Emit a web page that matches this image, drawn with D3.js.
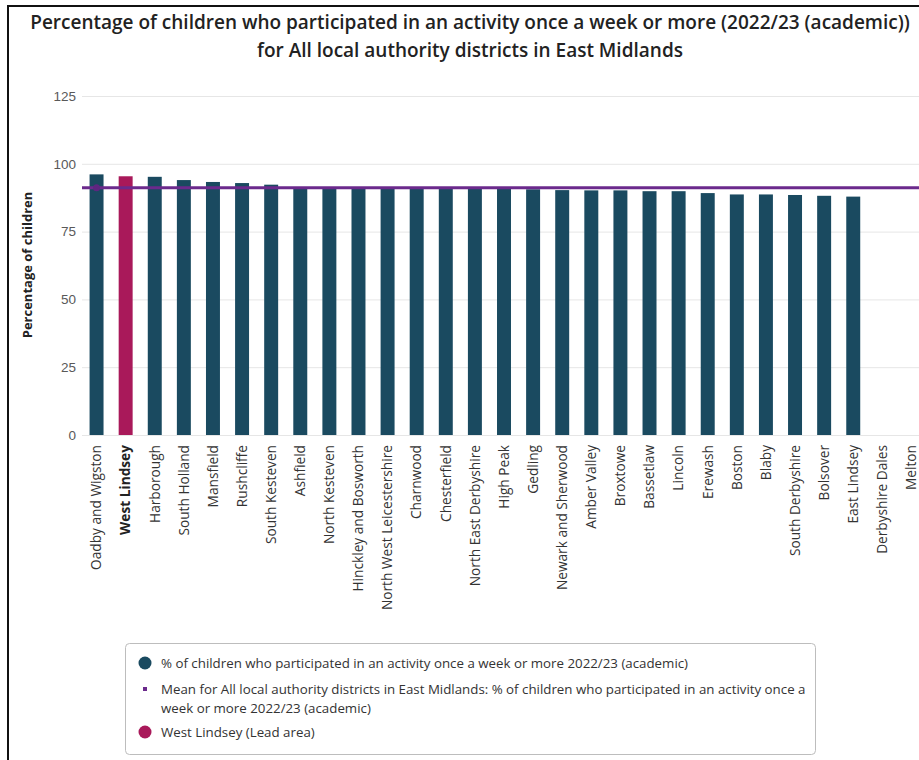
<!DOCTYPE html>
<html>
<head>
<meta charset="utf-8">
<title>Children activity chart</title>
<script src="https://d3js.org/d3.v7.min.js"></script>
<style>
 body { margin: 0; background: #fff; }
 svg { display: block; font-family: "Open Sans", "Noto Sans", sans-serif; }
 .title { fill: #222; font-size: 19px; font-weight: 600; }
 .tick text { fill: #595959; font-size: 13.5px; }
 .xlab { fill: #333; font-size: 13.7px; }
 .ylabel { fill: #222; font-size: 13px; font-weight: 700; }
 .legend text { fill: #333; font-size: 13.3px; }
</style>
</head>
<body>
<div id="chart"></div>
<script>
var districts = ["Oadby and Wigston", "West Lindsey", "Harborough", "South Holland", "Mansfield",
  "Rushcliffe", "South Kesteven", "Ashfield", "North Kesteven", "Hinckley and Bosworth",
  "North West Leicestershire", "Charnwood", "Chesterfield", "North East Derbyshire", "High Peak",
  "Gedling", "Newark and Sherwood", "Amber Valley", "Broxtowe", "Bassetlaw", "Lincoln",
  "Erewash", "Boston", "Blaby", "South Derbyshire", "Bolsover", "East Lindsey",
  "Derbyshire Dales", "Melton"];
var values = [96.1, 95.4, 95.2, 94.0, 93.3, 92.9, 92.3, 91.4, 91.3, 91.2,
  91.1, 91.0, 91.0, 90.9, 90.8, 90.6, 90.3, 90.2, 90.2, 89.9, 89.9,
  89.2, 88.7, 88.7, 88.5, 88.2, 87.9, null, null];
var meanValue = 91.2;
var leadArea = "West Lindsey";
var yTicks = [0, 25, 50, 75, 100, 125];
var titleLines = ["Percentage of children who participated in an activity once a week or more (2022/23 (academic))",
  "for All local authority districts in East Midlands"];
var legendItems = [
  {type: "circle", color: "#1a4a60", lines: ["% of children who participated in an activity once a week or more 2022/23 (academic)"]},
  {type: "square", color: "#6b2a8c", lines: ["Mean for All local authority districts in East Midlands: % of children who participated in an activity once a", "week or more 2022/23 (academic)"]},
  {type: "circle", color: "#a9195a", lines: ["West Lindsey (Lead area)"]}
];

var W = 919, H = 760;
var barColor = "#1a4a60", leadColor = "#a9195a", meanColor = "#6b2a8c";

var svg = d3.select("#chart").append("svg")
  .attr("width", W)
  .attr("height", H);

// frame (left and top edges visible)
svg.append("path")
  .attr("d", "M8,760 L8,6 L919,6")
  .attr("fill", "none")
  .attr("stroke", "#111")
  .attr("stroke-width", 2);

svg.selectAll(".title")
  .data(titleLines)
  .enter().append("text")
  .attr("class", "title")
  .attr("x", 470)
  .attr("y", function(d, i) { return 29 + i * 28; })
  .attr("text-anchor", "middle")
  .text(function(d) { return d; });

var plotLeft = 82, plotRight = 926;
var yScale = d3.scaleLinear().domain([0, 125]).range([435, 96]);
var xScale = d3.scaleBand().domain(districts).range([plotLeft, plotRight])
  .paddingInner(0.52).paddingOuter(0.26);

// grid + y ticks
var yAxis = svg.append("g")
  .attr("transform", "translate(" + plotLeft + ",0)")
  .call(d3.axisLeft(yScale).tickValues(yTicks).tickSize(-(W - plotLeft)).tickPadding(6));
yAxis.select(".domain").remove();
yAxis.selectAll(".tick line").attr("stroke", "#e6e6e6");

svg.append("text")
  .attr("class", "ylabel")
  .attr("transform", "translate(32,265) rotate(-90)")
  .attr("text-anchor", "middle")
  .text("Percentage of children");

var bars = districts.map(function(d, i) { return {name: d, value: values[i]}; })
  .filter(function(d) { return d.value != null; });

svg.selectAll(".bar")
  .data(bars)
  .enter().append("rect")
  .attr("class", "bar")
  .attr("x", function(d) { return xScale(d.name); })
  .attr("width", xScale.bandwidth())
  .attr("y", function(d) { return yScale(d.value); })
  .attr("height", function(d) { return yScale(0) - yScale(d.value); })
  .attr("fill", function(d) { return d.name === leadArea ? leadColor : barColor; });

// mean line
svg.append("line")
  .attr("x1", plotLeft)
  .attr("x2", W)
  .attr("y1", yScale(meanValue))
  .attr("y2", yScale(meanValue))
  .attr("stroke", meanColor)
  .attr("stroke-width", 3);
svg.append("circle")
  .attr("cx", xScale(districts[0]) + xScale.bandwidth() / 2)
  .attr("cy", yScale(meanValue))
  .attr("r", 3.5)
  .attr("fill", "#5e2680");

// x labels
svg.selectAll(".xlab")
  .data(districts)
  .enter().append("text")
  .attr("class", "xlab")
  .attr("transform", function(d) {
    return "translate(" + (xScale(d) + xScale.bandwidth() / 2) + ",445) rotate(-90)";
  })
  .attr("dy", "0.35em")
  .attr("text-anchor", "end")
  .style("font-weight", function(d) { return d === leadArea ? 700 : null; })
  .style("fill", function(d) { return d === leadArea ? "#222" : null; })
  .text(function(d) { return d; });

// legend
var legend = svg.append("g").attr("class", "legend");
legend.append("rect")
  .attr("x", 125.5).attr("y", 643.5)
  .attr("width", 690).attr("height", 111)
  .attr("rx", 4)
  .attr("fill", "#fff")
  .attr("stroke", "#bdbdbd");

var rowY = [663, 689, 732];
legendItems.forEach(function(item, i) {
  var g = legend.append("g");
  if (item.type === "circle") {
    g.append("circle").attr("cx", 145).attr("cy", rowY[i]).attr("r", 6.5).attr("fill", item.color);
  } else {
    g.append("rect").attr("x", 143).attr("y", rowY[i] - 2).attr("width", 4).attr("height", 4).attr("fill", item.color);
  }
  item.lines.forEach(function(line, j) {
    g.append("text")
      .attr("x", 161)
      .attr("y", rowY[i] + j * 19.5)
      .attr("dy", "0.35em")
      .text(line);
  });
});
</script>
</body>
</html>
